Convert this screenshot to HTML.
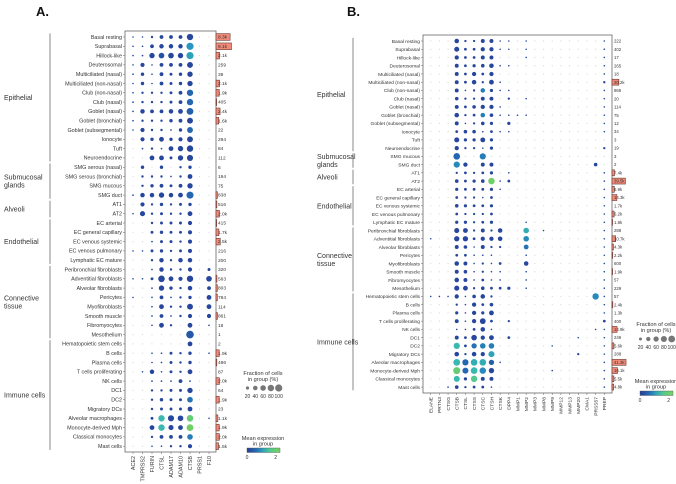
<!DOCTYPE html>
<html><head><meta charset="utf-8"><style>
html,body{margin:0;padding:0;background:#fff;}
svg{display:block;font-family:"Liberation Sans",sans-serif;}
</style></head><body>
<svg id="fig" width="676" height="484" viewBox="0 0 676 484" xmlns="http://www.w3.org/2000/svg"></svg>
<script>
// ---------- Panel A data ----------
const rowsA = ["Basal resting","Suprabasal","Hillock-like","Deuterosomal","Multiciliated (nasal)","Multiciliated (non-nasal)","Club (non-nasal)","Club (nasal)","Goblet (nasal)","Goblet (bronchial)","Goblet (subsegmental)","Ionocyte","Tuft","Neuroendocrine","SMG serous (nasal)","SMG serous (bronchial)","SMG mucous","SMG duct","AT1","AT2","EC arterial","EC general capillary","EC venous systemic","EC venous pulmonary","Lymphatic EC mature","Peribronchial fibroblasts","Adventitial fibroblasts","Alveolar fibroblasts","Pericytes","Myofibroblasts","Smooth muscle","Fibromyocytes","Mesothelium","Hematopoietic stem cells","B cells","Plasma cells","T cells proliferating","NK cells","DC1","DC2","Migratory DCs","Alveolar macrophages","Monocyte-derived Mph","Classical monocytes","Mast cells"];
const genesA = ["ACE2","TMPRSS2","FURIN","CTSL","ADAM17","ADAM10","CTSB","PRSS1","F10"];
const fracA = [
[2,2,10,25,25,25,70,0,0],[2,5,25,35,35,35,90,0,0],[2,5,50,55,55,50,90,0,0],[2,30,2,25,25,25,60,0,0],
[5,20,2,25,15,20,50,0,0],[2,20,2,25,15,20,50,0,0],[5,10,10,10,15,25,70,0,0],[5,10,10,10,15,25,70,0,0],
[5,35,25,25,35,40,80,0,0],[5,10,10,10,20,25,60,0,0],[2,30,10,10,5,20,60,0,0],[0,30,20,40,20,30,60,0,0],
[0,5,10,5,40,50,70,0,0],[0,0,40,40,15,50,65,0,0],[0,20,0,20,0,10,20,0,0],[0,10,10,10,5,10,40,0,0],
[0,10,20,25,15,25,50,0,0],[5,35,35,50,35,40,85,0,0],[0,30,10,20,10,15,20,0,0],[2,45,10,15,10,10,40,0,0],
[0,0,10,15,15,15,30,0,0],[0,0,15,20,15,15,30,0,0],[0,0,5,15,15,10,30,0,0],[2,2,15,20,10,15,30,0,0],
[0,0,10,35,10,35,35,0,0],[0,0,5,35,10,10,30,0,15],[2,2,15,75,40,30,70,0,55],[0,0,5,50,20,10,35,0,25],
[2,0,5,25,5,10,20,0,40],[0,0,5,40,10,10,60,0,40],[0,0,5,25,5,10,30,0,30],[0,0,5,40,10,0,40,0,5],
[0,0,0,0,0,0,100,0,0],[0,0,0,0,0,0,40,0,0],[0,0,2,5,15,10,20,0,2],[0,0,2,5,15,10,20,0,0],
[0,2,35,5,15,10,40,0,0],[0,0,5,5,5,25,5,0,0],[0,0,10,10,15,15,50,0,0],[0,0,10,20,15,15,55,0,0],
[0,0,10,15,15,15,40,0,0],[0,0,15,70,65,55,75,0,2],[0,0,40,70,45,40,80,0,0],[0,0,10,25,25,25,55,0,0],
[0,0,2,5,10,10,30,0,0]];
const exprA = [[1,6,1.0],[2,6,1.1],[2,3,0.3],[6,6,0.6],[7,6,0.6],[8,6,0.5],[10,6,0.6],[17,6,0.6],[32,6,0.4],[39,6,0.7],[41,3,1.3],[41,6,1.8],[42,3,1.3],[42,6,1.9],[43,6,0.8]];
const countsA = [8.3,9.1,2.1,0.259,0.039,2.1,1.9,0.405,2.4,1.6,0.022,0.294,0.084,0.112,0.006,0.194,0.075,0.838,0.516,2.0,0.415,1.7,2.5,0.216,0.2,0.32,0.563,0.803,0.784,0.114,0.861,0.018,0.001,0.002,1.9,0.486,0.087,2.0,0.064,1.9,0.023,1.1,1.9,2.0,1.5];
const countLabelsA = ["8.3k","9.1k","2.1k","259","39","2.1k","1.9k","405","2.4k","1.6k","22","294","84","112","6","194","75","838","516","2.0k","415","1.7k","2.5k","216","200","320","563","803","784","114","861","18","1","2","1.9k","486","87","2.0k","64","1.9k","23","1.1k","1.9k","2.0k","1.5k"];
const groupsA = [["Epithelial",0,13],["Submucosal|glands",14,17],["Alveoli",18,19],["Endothelial",20,24],["Connective|tissue",25,32],["Immune cells",33,44]];

// ---------- Panel B data ----------
const rowsB = ["Basal resting","Suprabasal","Hillock-like","Deuterosomal","Multiciliated (nasal)","Multiciliated (non-nasal)","Club (non-nasal)","Club (nasal)","Goblet (nasal)","Goblet (bronchial)","Goblet (subsegmental)","Ionocyte","Tuft","Neuroendocrine","SMG mucous","SMG duct","AT1","AT2","EC arterial","EC general capillary","EC venous systemic","EC venous pulmonary","Lymphatic EC mature","Peribronchial fibroblasts","Adventitial fibroblasts","Alveolar fibroblasts","Pericytes","Myofibroblasts","Smooth muscle","Fibromyocytes","Mesothelium","Hematopoietic stem cells","B cells","Plasma cells","T cells proliferating","NK cells","DC1","DC2","Migratory DCs","Alveolar macrophages","Monocyte-derived Mph","Classical monocytes","Mast cells"];
const genesB = ["ELANE","PRTN3","CTSG","CTSB","CTSL","CTSS","CTSC","CTSH","CTSK","DPP4","MMP1","MMP2","MMP3","MMP8","MMP9","MMP12","MMP13","MMP20","CMA1","PRSS57","PREP"];
const fracB = [
[0,0,0,40,10,10,30,30,2,2,0,2,0,0,0,0,0,0,0,0,5],
[0,0,0,50,15,15,35,35,2,2,0,2,0,0,0,0,0,0,0,0,5],
[0,0,0,35,15,15,30,30,0,0,0,2,0,0,0,0,0,0,0,0,2],
[0,0,0,30,15,20,25,40,2,2,0,0,0,0,0,0,0,0,0,0,2],
[0,0,0,30,15,35,15,35,0,0,0,0,0,0,0,0,0,0,0,0,5],
[0,0,0,30,15,40,10,45,2,0,0,0,0,0,0,0,0,0,0,0,10],
[0,0,0,30,5,10,40,20,2,2,0,0,0,0,0,0,0,0,0,0,5],
[0,0,0,25,10,10,30,30,0,10,0,5,0,0,0,0,0,0,0,0,5],
[0,0,0,30,15,25,35,35,2,0,0,0,0,0,0,0,0,0,0,0,5],
[0,0,0,40,10,15,40,25,2,2,2,2,0,0,0,0,0,0,0,0,5],
[0,0,0,30,5,10,25,20,0,20,0,0,0,0,0,0,0,0,0,0,5],
[0,0,0,15,25,25,2,15,5,5,0,0,0,0,0,0,0,0,0,0,2],
[0,0,0,50,20,20,45,20,0,0,0,0,0,0,0,0,0,0,0,0,0],
[0,0,0,35,10,10,5,20,0,0,0,0,0,0,0,0,0,0,0,0,10],
[0,0,0,85,0,0,75,0,0,0,0,0,0,0,0,0,0,0,0,0,0],
[0,0,0,75,35,0,30,30,0,0,0,0,0,0,0,0,0,0,0,25,0],
[0,0,0,10,15,10,15,20,0,2,0,0,0,0,0,0,0,0,0,0,2],
[0,0,0,25,15,20,25,80,5,15,0,0,0,0,0,0,0,0,0,0,2],
[0,0,0,20,15,15,15,20,2,0,0,0,0,0,0,0,0,0,0,0,2],
[0,0,0,15,10,10,5,15,0,0,0,0,0,0,0,0,0,0,0,0,2],
[0,0,0,25,20,15,15,20,0,0,0,0,0,0,0,0,0,0,0,0,2],
[0,0,0,15,10,10,10,15,0,0,0,0,0,0,0,0,0,0,0,0,2],
[0,0,0,20,20,10,15,20,0,0,0,2,0,0,0,0,0,0,0,0,2],
[0,0,0,50,45,10,30,10,40,0,0,60,0,2,0,0,0,0,0,0,2],
[2,0,0,55,55,15,35,35,40,0,0,60,0,0,0,0,0,0,0,0,5],
[0,0,0,30,25,5,30,10,10,0,0,45,0,0,0,0,0,0,0,0,2],
[0,0,0,15,15,5,5,5,0,0,0,5,0,0,0,0,0,0,0,0,2],
[0,0,0,40,30,5,10,5,15,0,0,40,0,0,0,0,0,0,0,0,2],
[0,0,0,30,25,5,10,5,5,0,0,5,0,0,0,0,0,0,0,0,2],
[0,0,0,40,30,5,15,5,5,0,0,5,0,0,0,0,0,0,0,0,2],
[0,0,0,50,45,10,25,15,15,20,0,5,0,0,0,0,0,0,0,0,2],
[5,5,5,35,5,25,40,10,0,0,0,0,0,0,0,0,0,0,0,80,5],
[0,0,0,10,5,35,15,25,0,0,0,0,0,0,0,0,0,0,0,0,2],
[0,0,0,20,5,35,20,45,0,0,0,0,0,0,0,0,0,0,0,0,2],
[0,0,0,30,5,35,65,15,0,10,0,0,0,0,0,0,0,0,0,0,15],
[0,0,0,5,5,15,40,5,0,0,0,0,0,0,0,0,0,0,0,2,2],
[0,0,0,30,15,60,35,45,0,15,0,0,0,0,0,0,0,5,0,0,2],
[0,0,0,75,15,55,60,60,0,0,0,0,0,0,5,0,0,0,0,0,2],
[0,0,0,40,10,40,35,70,0,0,0,0,0,0,0,0,0,10,0,0,2],
[0,0,0,90,75,85,85,55,5,0,0,0,0,0,0,0,0,0,0,0,2],
[0,0,0,95,70,85,80,55,0,0,0,0,0,0,2,0,0,0,0,0,2],
[0,0,0,70,20,80,30,30,0,0,0,0,0,0,0,0,0,0,0,0,2],
[0,0,5,25,10,15,15,5,0,0,0,0,0,0,0,0,0,0,0,0,2]];
const exprB = [[6,6,0.8],[9,6,0.8],[14,3,0.6],[14,6,0.8],[15,3,0.9],[17,7,1.9],[23,11,1.2],[24,11,0.9],[25,11,0.7],[31,19,0.9],[37,3,1.3],[37,5,0.7],[37,6,0.8],[37,7,0.8],[38,7,1.1],[39,3,1.3],[39,4,0.6],[39,5,1.2],[39,6,1.2],[39,7,0.5],[40,3,1.8],[40,4,0.6],[40,5,1.3],[40,6,0.9],[41,3,1.3],[41,5,1.6]];
const countsB = [0.222,0.402,0.017,0.265,0.018,20.2,0.869,0.02,0.114,0.075,0.012,0.034,0.003,0.019,0.003,0.002,7.4,39.5,6.9,14.3,1.7,6.2,1.8,0.288,10.7,4.3,2.2,0.6,1.9,0.057,0.229,0.057,2.4,1.3,0.4,14.9,0.249,5.6,0.288,41.3,16.1,5.5,4.8];
const countLabelsB = ["222","402","17","265","18","20.2k","869","20","114","75","12","34","3","19","3","2","7.4k","39.5k","6.9k","14.3k","1.7k","6.2k","1.8k","288","10.7k","4.3k","2.2k","600","1.9k","57","229","57","2.4k","1.3k","400","14.9k","249","5.6k","288","41.3k","16.1k","5.5k","4.8k"];
const groupsB = [["Epithelial",0,13],["Submucosal|glands",14,15],["Alveoli",16,17],["Endothelial",18,22],["Connective|tissue",23,30],["Immune cells",31,42]];
const legendFracs = [20,40,60,80,100];

const NS = "http://www.w3.org/2000/svg";
const svg = document.getElementById("fig");
function mk(tag, attrs, parent, txt){
  const e = document.createElementNS(NS, tag);
  for (const k in attrs) e.setAttribute(k, attrs[k]);
  if (txt !== undefined) e.textContent = txt;
  (parent||svg).appendChild(e);
  return e;
}
function cmap(v){
  const stops=[[0,[38,60,150]],[0.6,[36,102,178]],[1.0,[40,150,190]],[1.4,[62,196,170]],[2.0,[122,210,90]]];
  v=Math.max(0,Math.min(2,v));
  for(let i=1;i<stops.length;i++){ if(v<=stops[i][0]){ const a=stops[i-1],b=stops[i],t=(v-a[0])/(b[0]-a[0]);
    return "rgb("+a[1].map((c,j)=>Math.round(c+(b[1][j]-c)*t)).join(",")+")"; } }
  return "rgb(122,210,90)";
}

function panel(cfg){
  const g = mk("g", {});
  
  
  const yS = i => cfg.y0 + i*cfg.dy;
  const xS = j => cfg.x0 + j*cfg.dx;
  const rS = f => f<=0 ? 0.6 : Math.max(0.8, cfg.rmax*Math.sqrt(f/100));
  // frame
  const fr = mk("rect",{x:cfg.bx0,y:cfg.by0,width:cfg.bx1-cfg.bx0,height:cfg.by1-cfg.by0,fill:"none",stroke:"#666","stroke-width":0.8},g);
  
  
  const ex = {};
  cfg.expr.forEach(o=>{ex[o[0]+"_"+o[1]]=o[2];});
  cfg.rows.forEach((r,i)=>{
    const t = mk("text",{x:cfg.bx0-3,y:yS(i)+1.8,"font-size":cfg.fs,"text-anchor":"end",fill:"#333"},g,r);
    
    
    mk("line",{x1:cfg.bx0-2,x2:cfg.bx0,y1:yS(i),y2:yS(i),stroke:"#666","stroke-width":0.5},g);
    cfg.frac[i].forEach((f,j)=>{
      const v = ex[i+"_"+j]!==undefined ? ex[i+"_"+j] : 0.15;
      const c = mk("circle",{cx:xS(j),cy:yS(i),r:rS(f),fill:f<=0?"#d8d8d8":cmap(v)},g);
      
      
    });
    const w = cfg.counts[i]*cfg.bscale;
    if (w>0.6){
      const b = mk("rect",{x:cfg.bx1,y:yS(i)-cfg.dy*0.36,width:w,height:cfg.dy*0.72,fill:"#f08a78",stroke:"#6b3a33","stroke-width":0.6},g);
      
      
    }
    const ct = mk("text",{x:cfg.bx1+2,y:yS(i)+1.6,"font-size":cfg.fs-0.6,fill:"#333"},g,cfg.countLabels[i]);
    
    
  });
  cfg.genes.forEach((gn,j)=>{
    mk("line",{x1:xS(j),x2:xS(j),y1:cfg.by1,y2:cfg.by1+2,stroke:"#666","stroke-width":0.5},g);
    const t = mk("text",{x:0,y:0,"font-size":cfg.fs,"text-anchor":"end",fill:"#333",transform:"translate("+(xS(j)+1.8)+","+(cfg.by1+4)+") rotate(-90)"},g,gn);
    
    
  });
  cfg.groups.forEach(gr=>{
    const ya=yS(gr[1])-cfg.dy/2+1, yb=yS(gr[2])+cfg.dy/2-1;
    const l = mk("line",{x1:cfg.brx,x2:cfg.brx,y1:ya,y2:yb,stroke:"#888","stroke-width":1},g);
    
    
    const lines = gr[0].split("|");
    const ym=(ya+yb)/2 - (lines.length-1)*4;
    lines.forEach((ln,k)=>{
      const t = mk("text",{x:cfg.glx,y:ym+k*8+2.5,"font-size":7,fill:"#333"},g,ln);
      
      
    });
  });
  // legend
  const L = cfg.leg;
  const t1 = mk("text",{x:L.cx,y:L.fy,"font-size":5.6,"text-anchor":"middle",fill:"#333"},g,"Fraction of cells");
  
  
  mk("text",{x:L.cx,y:L.fy+6,"font-size":5.6,"text-anchor":"middle",fill:"#333"},g,"in group (%)");
  legendFracs.forEach((f,k)=>{
    const x = L.cx-15.5+k*7.8;
    const c = mk("circle",{cx:x,cy:L.fy+13,r:rS(f)*0.95,fill:"#777"},g);
    
    
    mk("text",{x:x,y:L.fy+23,"font-size":5,"text-anchor":"middle",fill:"#333"},g,String(f));
  });
  const t2 = mk("text",{x:L.cx,y:L.my,"font-size":5.6,"text-anchor":"middle",fill:"#333"},g,"Mean expression");
  
  
  mk("text",{x:L.cx,y:L.my+5.5,"font-size":5.6,"text-anchor":"middle",fill:"#333"},g,"in group");
  const defs = mk("defs",{},g);
  const lg = mk("linearGradient",{id:"grad"+cfg.name,x1:0,x2:1,y1:0,y2:0},defs);
  [0,0.3,0.5,0.7,1].forEach(s=>mk("stop",{offset:s,"stop-color":cmap(s*2.3)},lg));
  const cb = mk("rect",{x:L.cx-16,y:L.my+8,width:33,height:4.5,fill:"url(#grad"+cfg.name+")",stroke:"#555","stroke-width":0.4},g);
  
  
  mk("text",{x:L.cx-16,y:L.my+19,"font-size":5,"text-anchor":"middle",fill:"#333"},g,"0");
  mk("text",{x:L.cx-16+33*2/2.3,y:L.my+19,"font-size":5,"text-anchor":"middle",fill:"#333"},g,"2");
  const ti = mk("text",{x:cfg.tx,y:16,"font-size":13,"font-weight":"bold",fill:"#111"},g,cfg.title);
  
  
}

panel({name:"panel-a",title:"A.",tx:36,rows:rowsA,genes:genesA,frac:fracA,expr:exprA,counts:countsA,countLabels:countLabelsA,groups:groupsA,
  y0:37,dy:9.3,x0:133,dx:9.5,bx0:125,bx1:216,by0:31,by1:452,rmax:3.8,fs:5.4,bscale:1.7,brx:50,glx:4,
  leg:{cx:263,fy:375,my:440}});
panel({name:"panel-b",title:"B.",tx:347,rows:rowsB,genes:genesB,frac:fracB,expr:exprB,counts:countsB,countLabels:countLabelsB,groups:groupsB,
  y0:41,dy:8.24,x0:430.7,dx:8.68,bx0:423,bx1:612,by0:35,by1:393,rmax:3.6,fs:4.9,bscale:0.34,brx:353,glx:317,
  leg:{cx:656,fy:326,my:383}});
</script>
</body></html>
